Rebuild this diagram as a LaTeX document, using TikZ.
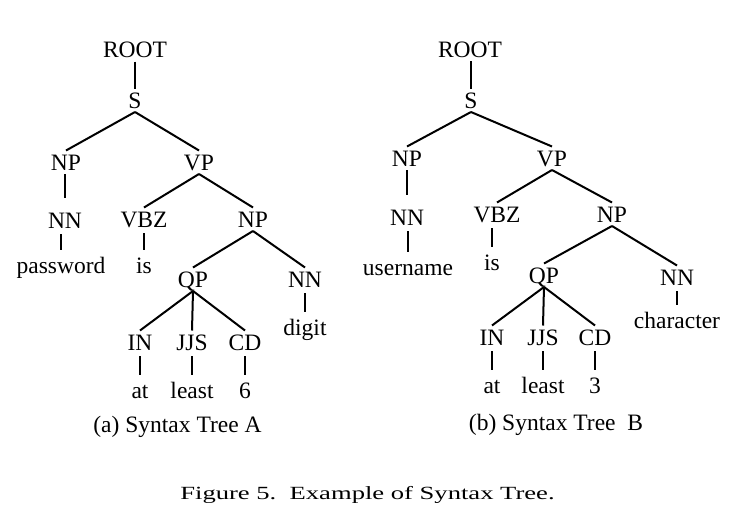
\documentclass[tikz,border=0pt]{standalone}
\usepackage{fontspec}
\setmainfont{Liberation Serif}
\newfontfamily\figfont[FakeStretch=1.43]{Liberation Serif}
\usetikzlibrary{positioning}

\begin{document}
\begin{tikzpicture}[x=1pt,y=-1pt,line width=2pt,
lab/.style={font=\fontsize{23.5}{28}\selectfont,anchor=base,inner sep=0pt,outer sep=4pt,text height=15.5pt,text depth=0pt},
gap/.style={shorten >=11pt},
vert/.style={to path={(\tikztostart -| \tikztotarget) -- (\tikztotarget)}},
leaf/.style={vert,shorten <=2pt,shorten >=4pt}]

\useasboundingbox (0,0) rectangle (747,512);

\node[lab] (rA)     at (135,57.5)  {ROOT};
\node[lab] (sA)     at (135,108)   {S};
\node[lab] (npA)    at (66,170)    {NP};
\node[lab] (vpA)    at (199,170)   {VP};
\node[lab] (nnA)    at (65,228)    {NN};
\node[lab] (vbzA)   at (144,227)   {VBZ};
\node[lab] (np2A)   at (253,227)   {NP};
\node[lab] (pwd)    at (61,273)    {password};
\node[lab] (isA)    at (144,273)   {is};
\node[lab] (qpA)    at (193,287)   {QP};
\node[lab] (nn2A)   at (305,287)   {NN};
\node[lab] (digit)  at (305,335)   {digit};
\node[lab] (inA)    at (140,350)   {IN};
\node[lab] (jjsA)   at (192,350)   {JJS};
\node[lab] (cdA)    at (245,350)   {CD};
\node[lab] (atA)    at (140,398)   {at};
\node[lab] (leastA) at (192,398)   {least};
\node[lab] (sixA)   at (245,398)   {6};
\node[lab] (capA)   at (177.5,432) {(a) Syntax Tree A};

\node[lab] (rB)     at (470,57)    {ROOT};
\node[lab] (sB)     at (471,108)   {S};
\node[lab] (npB)    at (407,166)   {NP};
\node[lab] (vpB)    at (552,166)   {VP};
\node[lab] (nnB)    at (407,225)   {NN};
\node[lab] (vbzB)   at (497,222)   {VBZ};
\node[lab] (np2B)   at (612,222)   {NP};
\node[lab] (user)   at (408,275)   {username};
\node[lab] (isB)    at (492,270)   {is};
\node[lab] (qpB)    at (544,283)   {QP};
\node[lab] (nn2B)   at (677,285)   {NN};
\node[lab] (chr)    at (677,328)   {character};
\node[lab] (inB)    at (492,345)   {IN};
\node[lab] (jjsB)   at (543,345)   {JJS};
\node[lab] (cdB)    at (595,345)   {CD};
\node[lab] (atB)    at (492,393)   {at};
\node[lab] (leastB) at (543,393)   {least};
\node[lab] (threeB) at (595,393)   {3};
\node[lab] (capB)   at (556,430)   {(b) Syntax Tree\ \ B};

\node[anchor=base,font=\figfont\fontsize{18.6}{22}\selectfont] (fig) at (367.5,499) {Figure 5.\ \ Example of Syntax Tree.};

\path (rA.south) edge[vert] (sA.north)
(sA.south) edge (npA.north)
edge (vpA.north)
(npA.south) edge[vert,gap] (nnA.north)
(nnA.south) edge[leaf] (pwd.north)
(vpA.south) edge (vbzA.north)
edge (np2A.north)
(vbzA.south) edge[leaf] (isA.north)
(np2A.south) edge (qpA.north)
edge (nn2A.north)
(nn2A.south) edge[leaf] (digit.north)
(qpA.south) edge (inA.north)
edge (jjsA.north)
edge (cdA.north)
(inA.south) edge[leaf] (atA.north)
(jjsA.south) edge[leaf] (leastA.north)
(cdA.south) edge[leaf] (sixA.north);

\path (rB.south) edge[vert] (sB.north)
(sB.south) edge (npB.north)
edge (vpB.north)
(npB.south) edge[vert,gap] (nnB.north)
(nnB.south) edge[leaf] (user.north)
(vpB.south) edge (vbzB.north)
edge (np2B.north)
(vbzB.south) edge[leaf] (isB.north)
(np2B.south) edge (qpB.north)
edge (nn2B.north)
(nn2B.south) edge[leaf] (chr.north)
(qpB.south) edge (inB.north)
edge (jjsB.north)
edge (cdB.north)
(inB.south) edge[leaf] (atB.north)
(jjsB.south) edge[leaf] (leastB.north)
(cdB.south) edge[leaf] (threeB.north);

\end{tikzpicture}
\end{document}
